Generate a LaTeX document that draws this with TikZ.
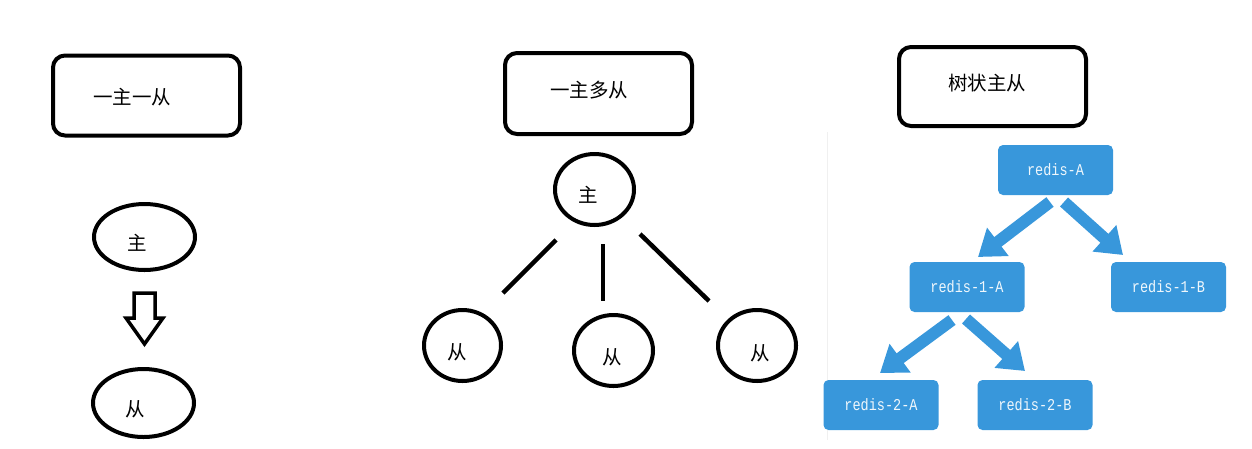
\documentclass[tikz,border=0pt]{standalone}
\usepackage{fontspec}
\newfontfamily\cjk{Noto Sans CJK SC}
\newfontfamily\monof[FakeStretch=0.82]{Liberation Mono}
\usetikzlibrary{shapes.geometric,arrows.meta}
\definecolor{rblue}{RGB}{56,151,219}
\tikzset{
  outline/.style={draw=black,line width=4pt,rounded corners=12pt,inner sep=0pt},
  cjktext/.style={font=\cjk\fontsize{19.5}{22}\selectfont,inner sep=0pt},
  oval/.style={draw=black,line width=4pt,ellipse,inner sep=0pt},
  thickline/.style={draw=black,line width=4.5pt},
  rbox/.style={fill=rblue,rounded corners=5pt,minimum width=115pt,minimum height=50pt,inner sep=0pt,text=white!92!rblue,font=\monof\fontsize{16.5}{18}\selectfont},
  rarrow/.style={draw=rblue,line width=12pt,-{Triangle[width=34pt,length=25pt]}},
}
\begin{document}
\begin{tikzpicture}[x=1pt,y=-1pt]
\useasboundingbox (0,0) rectangle (1252,448);
% ---------- one master one slave ----------
\node[outline,minimum width=187pt,minimum height=80pt] (b1) at (146.5,95.5) {};
\node[cjktext] (b1t) at (132,97) {一主一从};
\node[oval,minimum width=101pt,minimum height=66pt] (m1) at (144.5,237) {};
\node[cjktext] (m1t) at (137,243) {主};
\node[oval,minimum width=101pt,minimum height=68pt] (s1) at (143.5,403) {};
\node[cjktext] (s1t) at (135,409) {从};
\draw[line width=3.5pt,line join=miter] (134,293) -- (155,293) -- (155,318) -- (163,318) -- (144.5,344) -- (126,318) -- (134,318) -- cycle;
% ---------- one master many slaves ----------
\node[outline,minimum width=187pt,minimum height=81pt] (b2) at (598.5,93.5) {};
\node[cjktext] (b2t) at (589,90) {一主多从};
\node[oval,minimum width=79pt,minimum height=71pt] (m2) at (594.5,189.5) {};
\node[cjktext] (m2t) at (588,195) {主};
\node[oval,minimum width=77pt,minimum height=71pt] (s21) at (462.5,345.5) {};
\node[cjktext] (s21t) at (457,352) {从};
\node[oval,minimum width=79pt,minimum height=71pt] (s22) at (613.5,350.5) {};
\node[cjktext] (s22t) at (612,357) {从};
\node[oval,minimum width=78pt,minimum height=71pt] (s23) at (757,345.5) {};
\node[cjktext] (s23t) at (760,353) {从};
\coordinate (l1a) at (556,240); \coordinate (l1b) at (503,293);
\coordinate (l2a) at (603,244); \coordinate (l2b) at (603,301);
\coordinate (l3a) at (640,234); \coordinate (l3b) at (709,301);
\draw[thickline] (l1a) -- (l1b);
\draw[thickline] (l2a) -- (l2b);
\draw[thickline] (l3a) -- (l3b);
% ---------- tree ----------
\node[outline,minimum width=187pt,minimum height=79pt] (b3) at (992.5,86.5) {};
\node[cjktext] (b3t) at (987,83) {树状主从};
\draw[black!6,line width=1pt] (827,132) -- (827,440);
\node[rbox] (rA) at (1055.5,170) {redis-A};
\node[rbox] (r1A) at (967,287) {redis-1-A};
\node[rbox] (r1B) at (1168.5,287) {redis-1-B};
\node[rbox] (r2A) at (881,405) {redis-2-A};
\node[rbox] (r2B) at (1035,405) {redis-2-B};
\coordinate (aAl) at (1050,202); \coordinate (aAlt) at (978,257);
\coordinate (aAr) at (1064,202); \coordinate (aArt) at (1123,255);
\coordinate (a1l) at (952,320); \coordinate (a1lt) at (880,373);
\coordinate (a1r) at (966,319); \coordinate (a1rt) at (1025,371);
\draw[rarrow] (aAl) -- (aAlt);
\draw[rarrow] (aAr) -- (aArt);
\draw[rarrow] (a1l) -- (a1lt);
\draw[rarrow] (a1r) -- (a1rt);
\end{tikzpicture}
\end{document}
